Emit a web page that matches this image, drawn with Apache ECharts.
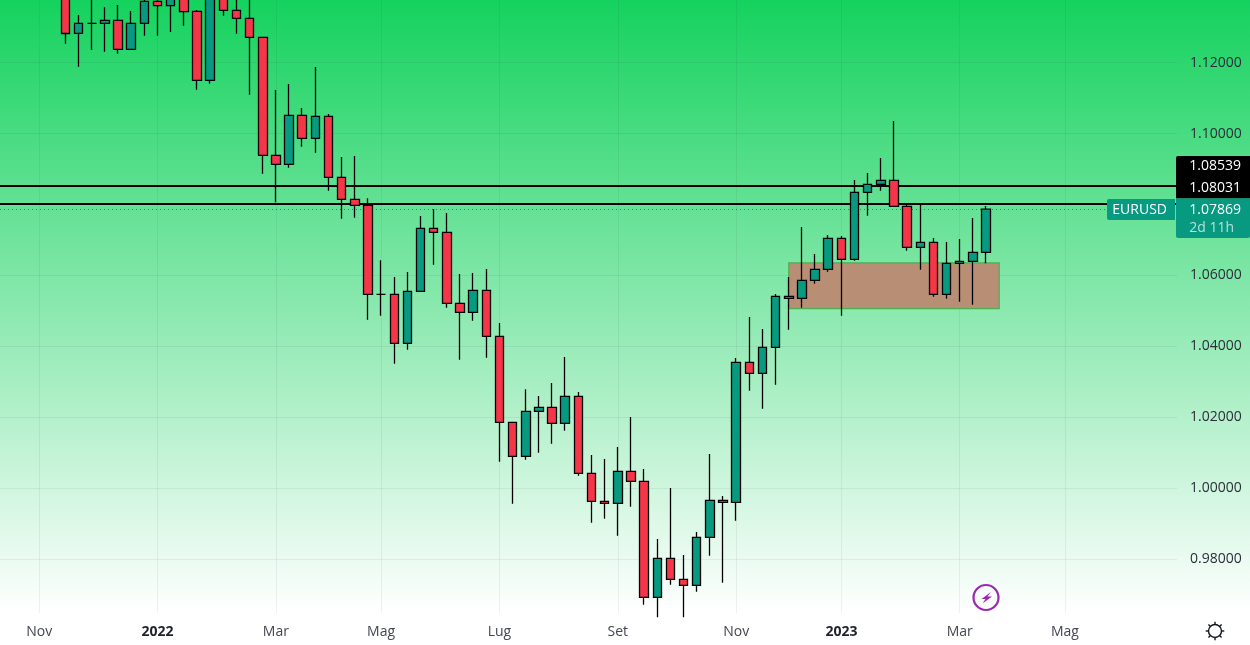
<!DOCTYPE html>
<html>
<head>
<meta charset="utf-8">
<style>html,body{margin:0;padding:0;background:#fff}#c{width:1250px;height:645px}</style>
<script src="https://cdn.jsdelivr.net/npm/echarts@6/dist/echarts.min.js"></script>
</head>
<body>
<div id="c"></div>
<script>
const firstWeek = '2021-11-15';
const opens = [1.1445,1.1283,1.13113,1.13113,1.13197,1.12379,1.13113,1.13733,1.13609,1.1392,
1.13451,1.11504,1.1453,1.13479,1.13254,1.12718,1.09388,1.09134,1.10517,1.09868,
1.10488,1.08767,1.08146,1.07977,1.05466,1.05466,1.04083,1.0555,1.07328,1.07215,
1.05212,1.04958,1.05579,1.04281,1.01854,1.00894,1.02164,1.02277,1.01826,1.02588,
1.00415,0.99625,0.99568,1.00472,1.00189,0.96916,0.98016,0.97424,0.97255,0.98609,
0.99653,0.99597,1.03547,1.03237,1.0397,1.05409,1.05353,1.05861,1.06171,1.07046,
1.06453,1.08344,1.0857,1.08682,1.07949,1.06792,1.06933,1.05466,1.0634,1.06397,1.06651];
const closes = [1.12825,1.13113,1.13113,1.13197,1.12379,1.13113,1.13733,1.13609,1.139,1.1344,
1.11504,1.1453,1.13479,1.13254,1.12718,1.09388,1.09134,1.10517,1.09868,1.10488,
1.08767,1.08146,1.07977,1.05466,1.05466,1.04083,1.0555,1.07328,1.07215,1.05212,
1.04958,1.05579,1.04281,1.01854,1.00894,1.02164,1.02277,1.01826,1.02588,1.00415,
0.99625,0.99568,1.00472,1.00189,0.96916,0.98016,0.97424,0.97255,0.98609,0.99653,
0.99597,1.03547,1.03237,1.0397,1.05409,1.05353,1.05861,1.06171,1.07046,1.06453,
1.08344,1.0857,1.08682,1.07949,1.06792,1.06933,1.05466,1.0634,1.06397,1.06651,1.07869];
const lows = [1.12537,1.11888,1.12359,1.12311,1.12255,1.12379,1.12763,1.12763,1.12867,1.13045,
1.11239,1.11408,1.13327,1.12819,1.11098,1.08869,1.08062,1.09038,1.09631,1.09461,
1.08389,1.07599,1.07627,1.04749,1.04862,1.03508,1.03903,1.0555,1.06301,1.05088,
1.0362,1.04721,1.03677,1.00742,0.99557,1.00799,1.00996,1.0125,1.01617,1.00347,
0.99021,0.99134,0.98654,0.99472,0.96707,0.9635,0.97272,0.9635,0.97074,0.9809,
0.97328,0.99078,1.02746,1.02238,1.02915,1.04467,1.05088,1.05765,1.06104,1.04862,
1.06414,1.07684,1.08389,1.07949,1.06696,1.0616,1.05398,1.05342,1.05257,1.05172,1.0634];
const highs = [1.1465,1.13347,1.1395,1.13564,1.13629,1.1346,1.1385,1.1382,1.1405,1.1415,
1.13488,1.1483,1.1495,1.1395,1.1395,1.12718,1.1123,1.114,1.10723,1.1188,
1.10553,1.0934,1.09368,1.08175,1.06425,1.05954,1.06095,1.07675,1.07873,1.0776,
1.06039,1.06067,1.0618,1.04656,1.01854,1.02785,1.02596,1.02963,1.03697,1.02709,
1.00931,1.00818,1.01157,1.02004,1.00536,0.98561,1.0,0.9811,0.98759,1.00959,
0.99774,1.03668,1.04825,1.04487,1.05474,1.05954,1.07365,1.06603,1.07139,1.07111,
1.08691,1.08889,1.09312,1.10356,1.08005,1.08042,1.07054,1.06942,1.07026,1.07619,1.07957];

const priceTicks = [0.98,1.00,1.02,1.04,1.06,1.10,1.12];
const priceGrid  = [0.98,1.00,1.02,1.04,1.06,1.08,1.10,1.12];
const timeTickWeeks  = [-2,7,16,24,33,42,51,59,68,76];
const timeTickLabels = ['Nov','2022','Mar','Mag','Lug','Set','Nov','2023','Mar','Mag'];

const levelLines = [1.08539,1.08031];
const lastPrice = 1.07869;
const symbolName = 'EURUSD';
const countdown = '2d 11h';
const zoneWeeks = [55,71];
const zonePrices = [1.06351,1.05064];

const candleData = opens.map((o,i)=>[i,o,closes[i],lows[i],highs[i]]);
const fmt = v => v.toFixed(5);
const FONT = '"Open Sans", sans-serif';

const chart = echarts.init(document.getElementById('c'),null,{renderer:'canvas',width:1250,height:645});

const tagBox = (x,y,w,h,fill,r)=>({type:'rect',silent:true,z:50,shape:{x,y,width:w,height:h,r:r||0},style:{fill}});
const tagTxt = (x,y,t,fill,extra)=>({type:'text',silent:true,z:51,x,y,style:Object.assign({text:t,fill,font:'14px "Open Sans", sans-serif',textAlign:'right',textVerticalAlign:'middle'},extra||{})});
const gearTicks = [0,45,90,135,180,225,270,315].map(a=>{
  const r=a*Math.PI/180, cx=1215, cy=631;
  return {type:'line',silent:true,z:50,shape:{x1:cx+6.8*Math.cos(r),y1:cy+6.8*Math.sin(r),x2:cx+9.3*Math.cos(r),y2:cy+9.3*Math.sin(r)},style:{stroke:'#131722',lineWidth:1.4}};
});

chart.setOption({
  animation:false,
  backgroundColor:{type:'linear',x:0,y:0,x2:0,y2:1,colorStops:[
    {offset:0,color:'#15D25E'},{offset:0.95,color:'#FFFFFF'},{offset:1,color:'#FFFFFF'}]},
  grid:{left:0,top:-0.5,width:1177,height:613.5,containLabel:false},
  xAxis:{
    type:'value',min:-4.98,max:84.52,
    axisLine:{show:false},
    axisTick:{show:false,customValues:timeTickWeeks},
    splitLine:{show:true,lineStyle:{color:'rgba(42,46,57,0.07)',width:1}},
    axisLabel:{
      show:true,customValues:timeTickWeeks,margin:12,
      fontFamily:FONT,fontSize:14,color:'#434651',
      formatter:v=>{const s=timeTickLabels[timeTickWeeks.indexOf(v)];return /^\d/.test(s)?'{b|'+s+'}':s;},
      rich:{b:{fontFamily:FONT,fontSize:14,fontWeight:'bold',color:'#1F222B'}}
    }
  },
  yAxis:{
    type:'value',position:'right',min:0.96473,max:1.1377,
    axisLine:{show:false},
    axisTick:{show:false,customValues:priceGrid},
    splitLine:{show:true,lineStyle:{color:'rgba(42,46,57,0.07)',width:1}},
    axisLabel:{show:true,customValues:priceTicks,margin:13,align:'left',fontFamily:FONT,fontSize:14,color:'#2A2E39',formatter:v=>fmt(v)}
  },
  series:[
    {
      type:'line',z:1,data:[],silent:true,
      markArea:{
        silent:true,z:1,
        itemStyle:{color:'#B88E75',borderColor:'#4CAF50',borderWidth:1.2},
        data:[[{xAxis:zoneWeeks[0],yAxis:zonePrices[0]},{xAxis:zoneWeeks[1],yAxis:zonePrices[1]}]]
      },
      markLine:{
        silent:true,z:1,symbol:'none',precision:5,label:{show:false},
        data:[
          {yAxis:levelLines[0],lineStyle:{color:'#000',width:2,type:'solid'}},
          {yAxis:levelLines[1],lineStyle:{color:'#000',width:2,type:'solid'}},
          {yAxis:lastPrice,lineStyle:{color:'#089981',width:1,type:[1,3]}}
        ]
      }
    },
    {
      type:'candlestick',z:3,barWidth:9,data:candleData,clip:true,
      itemStyle:{color:'#089981',color0:'#F53649',borderColor:'#000',borderColor0:'#000',borderColorDoji:'#000',borderWidth:1.3}
    }
  ],
  graphic:[
    tagBox(1176,156,74,42.5,'#000',[2,0,0,0]),
    tagTxt(1241,166,fmt(levelLines[0]),'#fff'),
    tagTxt(1241,188,fmt(levelLines[1]),'#fff'),
    tagBox(1176,198.5,74,39.5,'#089981',[0,0,2,2]),
    tagTxt(1241,210,fmt(lastPrice),'#fff'),
    tagTxt(1234,228,countdown,'#B5E0D9'),
    tagBox(1107,199,68,21,'#089981',[2,0,0,2]),
    tagTxt(1167,210,symbolName,'#fff'),
    {type:'circle',silent:true,z:50,shape:{cx:986,cy:597.5,r:12.5},style:{fill:'rgba(255,255,255,0)',stroke:'#9C27B0',lineWidth:2.2}},
    {type:'polygon',silent:true,z:51,shape:{points:[[991,592],[981.5,599],[985.5,599],[982.5,603.5],[992,596.5],[987.5,596.5]]},style:{fill:'#9C27B0'}},
    {type:'circle',silent:true,z:50,shape:{cx:1215,cy:631,r:6.5},style:{fill:'rgba(255,255,255,0)',stroke:'#131722',lineWidth:1.4}}
  ].concat(gearTicks)
});
</script>
</body>
</html>
